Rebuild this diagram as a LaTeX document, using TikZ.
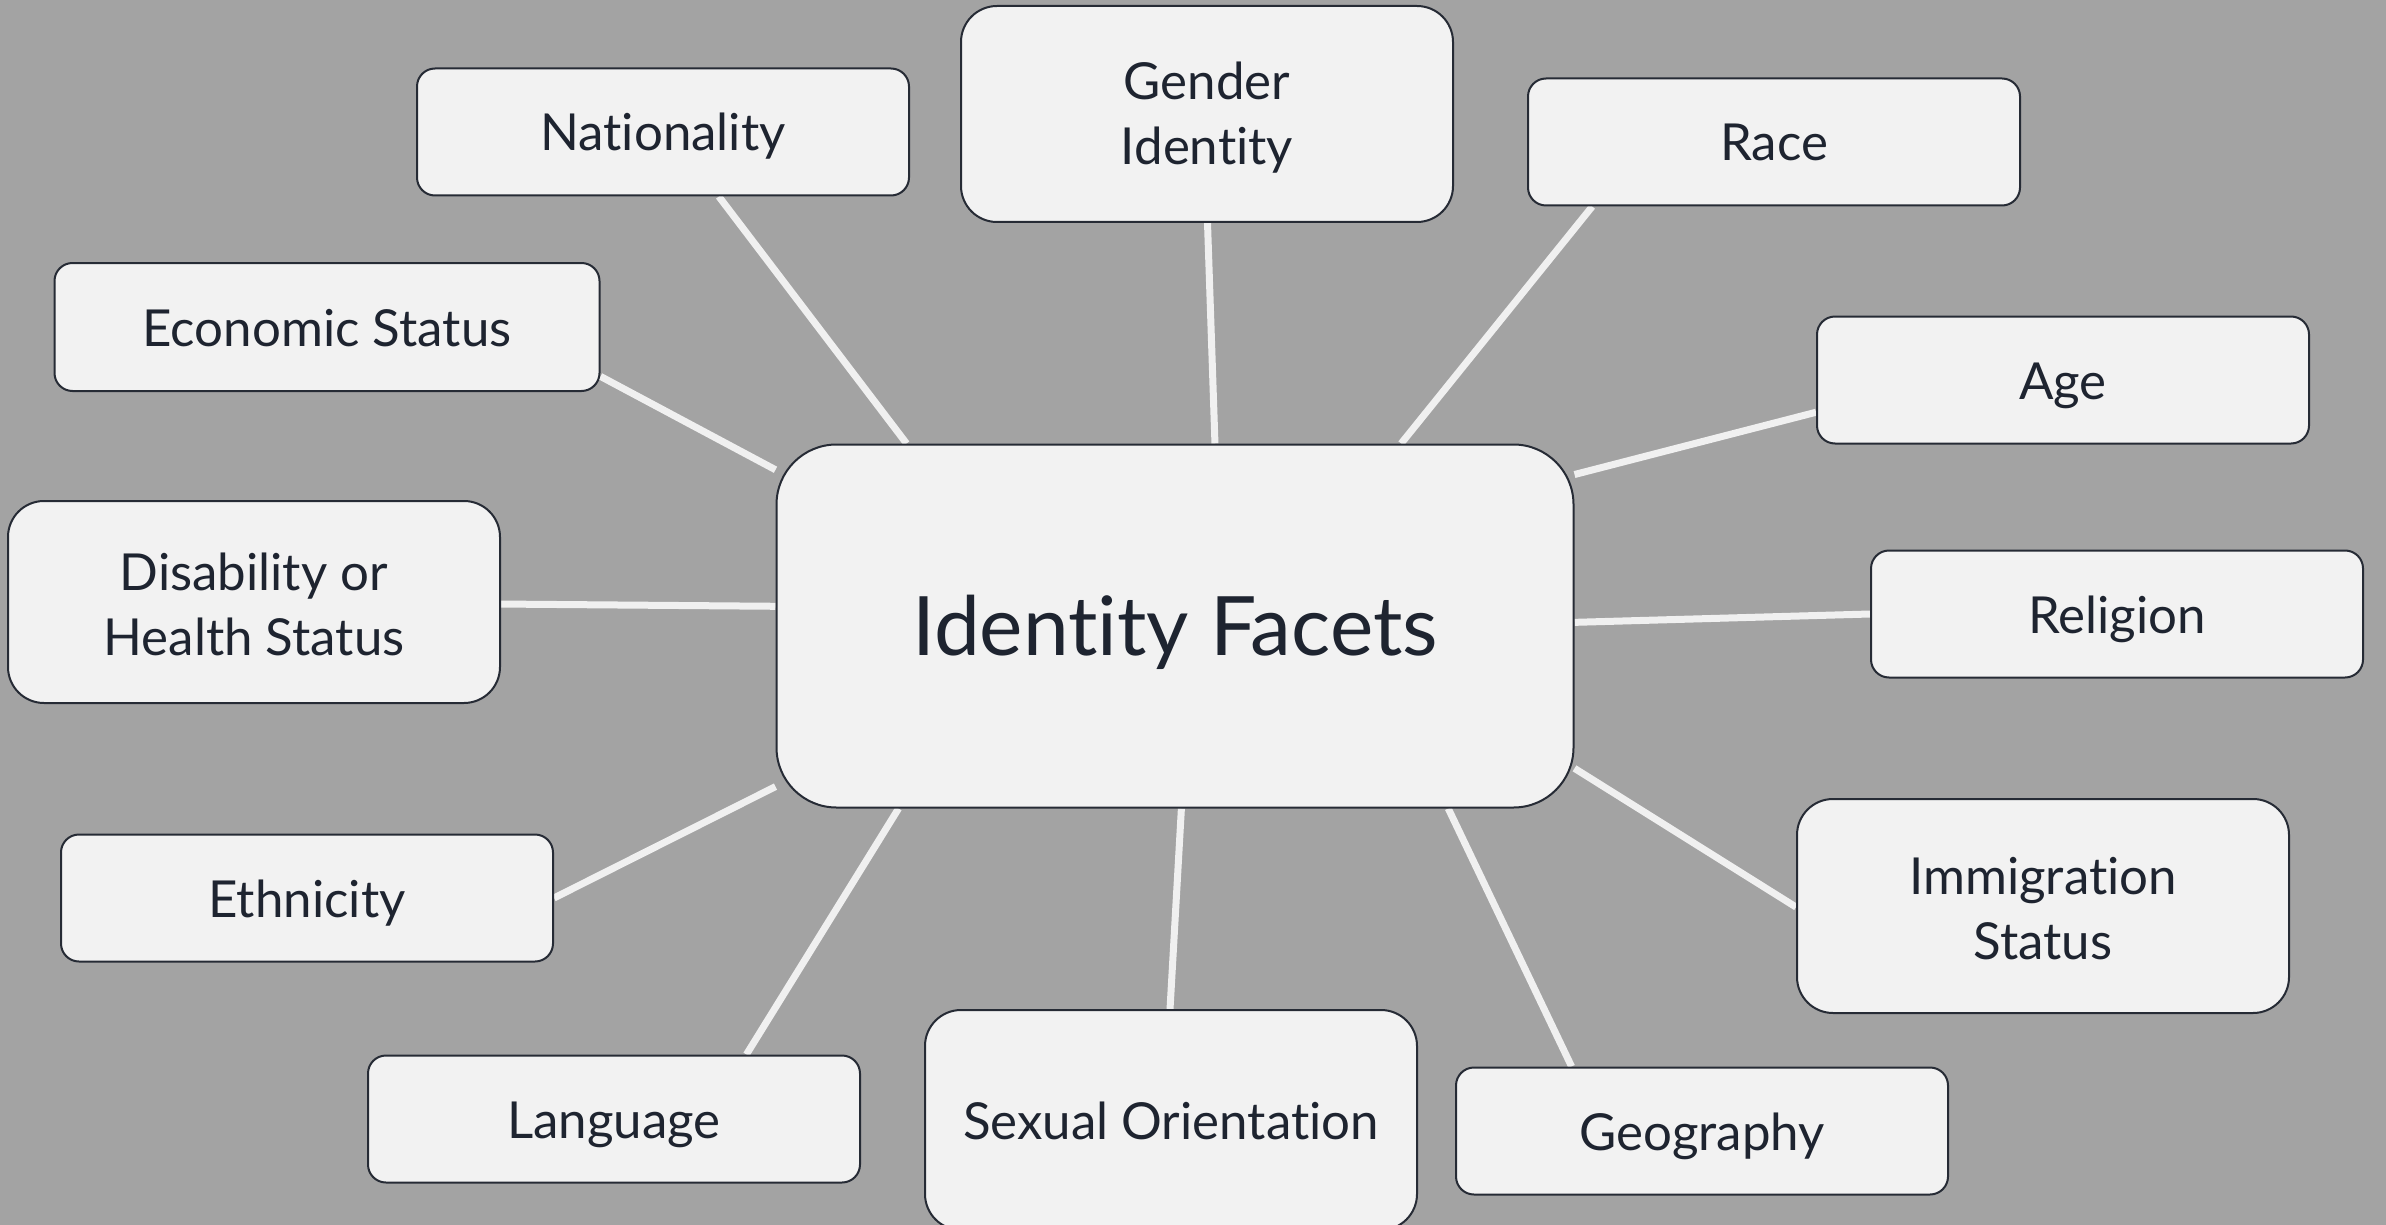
\documentclass[tikz,border=0pt]{standalone}
\usepackage{fontspec}
\setmainfont{Lato}[Ligatures={NoCommon,NoRare,NoDiscretionary}]
\usetikzlibrary{calc,backgrounds}
\definecolor{bgc}{HTML}{A3A3A3}
\definecolor{boxfill}{HTML}{F2F2F2}
\definecolor{edgec}{HTML}{262B35}
\definecolor{ink}{HTML}{1E2430}
\definecolor{linkc}{HTML}{F0F0F0}
\newcommand\dnline[2]{\raisebox{-#1}[\height][\depth]{#2}}
\begin{document}
\begin{tikzpicture}[x=0.5pt,y=-0.5pt,
  box/.style={draw=edgec, line width=1pt, fill=boxfill, rounded corners=9pt,
    minimum width=246pt, minimum height=63.5pt, inner sep=0pt, align=center,
    text=ink, font=\fontsize{25.5}{32.5}\selectfont},
  one/.style={box, text height=19pt, text depth=0pt},
  tall/.style={box, rounded corners=18pt},
  link/.style={draw=linkc, line width=3.5pt}]
\useasboundingbox (0,0) rectangle (2386,1225);
\node[box, rounded corners=30pt, minimum width=398.5pt, minimum height=181.5pt,
  text height=29.4pt, text depth=0pt,
  font=\fontsize{41}{50}\selectfont] (c) at (1175,626) {Identity Facets};
\node[one] (nat) at (663,132) {Nationality};
\node[tall, minimum height=108pt] (gen) at (1207,114) {\dnline{2pt}{Gender}\\\dnline{2pt}{Identity}};
\node[one] (race) at (1774,142) {Race};
\node[one, minimum width=272.5pt, minimum height=64pt] (eco) at (327,327) {Economic Status};
\node[one] (age) at (2063,380) {Age};
\node[tall, minimum height=101pt] (dis) at (254,602) {\dnline{1pt}{Disability or}\\\dnline{1pt}{Health Status}};
\node[one] (rel) at (2117,614) {Religion};
\node[one] (eth) at (307,898) {Ethnicity};
\node[tall, minimum height=107pt] (imm) at (2043,906) {\dnline{1.2pt}{Immigration}\\\dnline{1.2pt}{Status}};
\node[one] (lang) at (614,1119) {Language};
\node[one, rounded corners=18pt, minimum height=110pt] (sex) at (1171,1120) {Sexual Orientation};
\node[one] (geo) at (1702,1131) {Geography};
\begin{scope}[on background layer]
\fill[bgc] (0,0) rectangle (2386,1225);
\draw[link] ($(nat.south west)!0.613!(nat.south east)$) -- ($(c.north west)!0.164!(c.north east)$);
\draw[link] ($(gen.south west)!0.501!(gen.south east)$) -- ($(c.north west)!0.55!(c.north east)$);
\draw[link] ($(race.south west)!0.132!(race.south east)$) -- ($(c.north west)!0.783!(c.north east)$);
\draw[link] ($(eco.north east)!0.88!(eco.south east)$) -- ($(c.north west)!0.072!(c.south west)$);
\draw[link] ($(age.north west)!0.75!(age.south west)$) -- ($(c.north east)!0.085!(c.south east)$);
\draw[link] ($(dis.north east)!0.51!(dis.south east)$) -- ($(c.north west)!0.446!(c.south west)$);
\draw[link] ($(rel.north west)!0.5!(rel.south west)$) -- ($(c.north east)!0.49!(c.south east)$);
\draw[link] ($(eth.north east)!0.5!(eth.south east)$) -- ($(c.north west)!0.94!(c.south west)$);
\draw[link] ($(imm.north west)!0.505!(imm.south west)$) -- ($(c.north east)!0.89!(c.south east)$);
\draw[link] ($(lang.north west)!0.768!(lang.north east)$) -- ($(c.south west)!0.154!(c.south east)$);
\draw[link] ($(sex.north west)!0.498!(sex.north east)$) -- ($(c.south west)!0.508!(c.south east)$);
\draw[link] ($(geo.north west)!0.236!(geo.north east)$) -- ($(c.south west)!0.842!(c.south east)$);
\end{scope}
\end{tikzpicture}
\end{document}
